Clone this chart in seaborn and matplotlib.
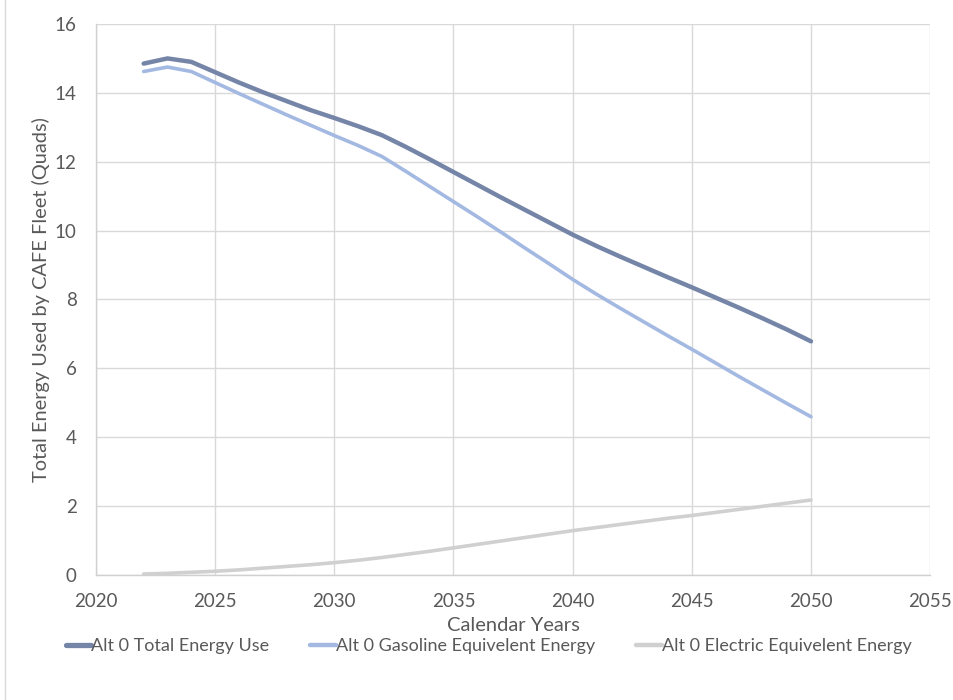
import numpy as np
import pandas as pd
import matplotlib
matplotlib.use("Agg")
import matplotlib.pyplot as plt
from matplotlib.lines import Line2D
import seaborn as sns

years = list(range(2022, 2051))
total_energy = [14.85, 15.00, 14.90, 14.60, 14.30, 14.02, 13.76, 13.50, 13.27, 13.03,
                12.77, 12.43, 12.07, 11.70, 11.33, 10.96, 10.60, 10.24, 9.88, 9.55,
                9.24, 8.94, 8.64, 8.35, 8.05, 7.75, 7.44, 7.12, 6.78]
gasoline_energy = [14.62, 14.75, 14.62, 14.30, 13.98, 13.67, 13.36, 13.06, 12.76, 12.47,
                   12.15, 11.72, 11.28, 10.84, 10.40, 9.95, 9.49, 9.04, 8.58, 8.15,
                   7.74, 7.34, 6.94, 6.55, 6.15, 5.75, 5.36, 4.97, 4.59]
electric_energy = [0.02, 0.04, 0.07, 0.10, 0.14, 0.19, 0.24, 0.29, 0.35, 0.42,
                   0.50, 0.59, 0.68, 0.78, 0.88, 0.98, 1.08, 1.18, 1.28, 1.37,
                   1.46, 1.55, 1.64, 1.72, 1.81, 1.90, 1.99, 2.08, 2.17]
series_names = ["Alt 0 Total Energy Use", "Alt 0 Gasoline Equivelent Energy",
                "Alt 0 Electric Equivelent Energy"]
x_ticks = [2020, 2025, 2030, 2035, 2040, 2045, 2050, 2055]
y_ticks = [0, 2, 4, 6, 8, 10, 12, 14, 16]

df = pd.DataFrame({
    "year": years * 3,
    "value": total_energy + gasoline_energy + electric_energy,
    "series": [series_names[0]] * len(years) + [series_names[1]] * len(years)
              + [series_names[2]] * len(years),
})

sns.set_theme(style="white")
plt.rcParams["font.family"] = ["Lato", "DejaVu Sans"]

fig = plt.figure(figsize=(9.54, 7.0), dpi=100)
ax = fig.add_axes([0.1006, 0.179, 0.8744, 0.7867])

colors = {series_names[0]: "#7585a8", series_names[1]: "#a3b9e2",
          series_names[2]: "#d0d0d0"}
widths = {series_names[0]: 3.2, series_names[1]: 2.6, series_names[2]: 2.6}

sns.lineplot(data=df, x="year", y="value", hue="series", palette=colors,
             ax=ax, legend=False, zorder=3)
for line, name in zip(ax.get_lines(), series_names):
    line.set_linewidth(widths[name])
    line.set_solid_capstyle("round")
    line.set_solid_joinstyle("round")

ax.set_xlim(2020, 2055)
ax.set_ylim(0, 16)
ax.set_xticks(x_ticks)
ax.set_yticks(y_ticks)
ax.grid(True, color="#d9d9d9", linewidth=1.0, zorder=0)
for s in ["top", "right"]:
    ax.spines[s].set_visible(False)
for s in ["left", "bottom"]:
    ax.spines[s].set_color("#d0d0d0")
    ax.spines[s].set_linewidth(1.0)
ax.tick_params(axis="both", colors="#595959", labelsize=13.5, length=0)
ax.tick_params(axis="y", pad=14)
ax.tick_params(axis="x", pad=13)

ax.set_xlabel("Calendar Years", fontsize=14.5, color="#595959", labelpad=5)
ax.set_ylabel("Total Energy Used by CAFE Fleet (Quads)", fontsize=14.4,
              color="#595959", labelpad=3)

handles = [Line2D([0], [0], color=colors[n], linewidth=widths[n] + 0.6) for n in series_names]
fig.legend(handles, series_names, loc="center", bbox_to_anchor=(0.512, 0.077),
           ncol=3, frameon=False, fontsize=13, handlelength=1.4,
           handletextpad=0.0, columnspacing=2.3, labelcolor="#595959")

fig.add_artist(plt.Line2D([0.005, 0.005], [0.0, 1.0], color="#d9d9d9", linewidth=1,
                          transform=fig.transFigure))

fig.savefig("out.png", dpi=100, facecolor="white")
